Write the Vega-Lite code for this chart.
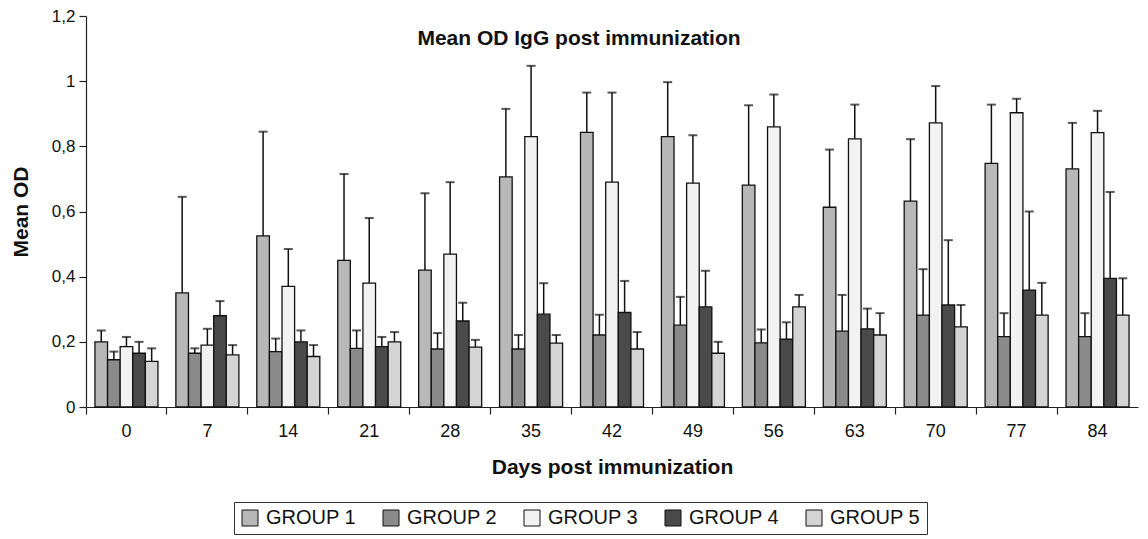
{
  "$schema": "https://vega.github.io/schema/vega-lite/v6.json",
  "width": 1052,
  "height": 391,
  "autosize": {"type": "none"},
  "padding": {"left": 86, "top": 16, "right": 10, "bottom": 132},
  "background": "white",
  "config": {
    "font": "Liberation Sans",
    "view": {"stroke": null},
    "axis": {"domainColor": "#222", "tickColor": "#222", "labelColor": "#111", "titleColor": "#111", "grid": false, "labelFont": "Liberation Sans", "titleFont": "Liberation Sans"}
  },
  "title": {"text": "Mean OD IgG post immunization", "fontSize": 21, "fontWeight": "bold", "font": "Liberation Sans", "anchor": "middle", "dx": -33, "offset": -42, "color": "#111"},
  "data": {"values": [
    {"day": 0, "group": "GROUP 1", "mean": 0.20, "upper": 0.235},
    {"day": 0, "group": "GROUP 2", "mean": 0.145, "upper": 0.17},
    {"day": 0, "group": "GROUP 3", "mean": 0.185, "upper": 0.215},
    {"day": 0, "group": "GROUP 4", "mean": 0.165, "upper": 0.20},
    {"day": 0, "group": "GROUP 5", "mean": 0.14, "upper": 0.18},
    {"day": 7, "group": "GROUP 1", "mean": 0.35, "upper": 0.645},
    {"day": 7, "group": "GROUP 2", "mean": 0.165, "upper": 0.18},
    {"day": 7, "group": "GROUP 3", "mean": 0.19, "upper": 0.24},
    {"day": 7, "group": "GROUP 4", "mean": 0.28, "upper": 0.325},
    {"day": 7, "group": "GROUP 5", "mean": 0.16, "upper": 0.19},
    {"day": 14, "group": "GROUP 1", "mean": 0.525, "upper": 0.845},
    {"day": 14, "group": "GROUP 2", "mean": 0.17, "upper": 0.21},
    {"day": 14, "group": "GROUP 3", "mean": 0.37, "upper": 0.485},
    {"day": 14, "group": "GROUP 4", "mean": 0.20, "upper": 0.235},
    {"day": 14, "group": "GROUP 5", "mean": 0.155, "upper": 0.19},
    {"day": 21, "group": "GROUP 1", "mean": 0.45, "upper": 0.715},
    {"day": 21, "group": "GROUP 2", "mean": 0.18, "upper": 0.235},
    {"day": 21, "group": "GROUP 3", "mean": 0.38, "upper": 0.58},
    {"day": 21, "group": "GROUP 4", "mean": 0.185, "upper": 0.215},
    {"day": 21, "group": "GROUP 5", "mean": 0.20, "upper": 0.23},
    {"day": 28, "group": "GROUP 1", "mean": 0.42, "upper": 0.656},
    {"day": 28, "group": "GROUP 2", "mean": 0.178, "upper": 0.227},
    {"day": 28, "group": "GROUP 3", "mean": 0.469, "upper": 0.69},
    {"day": 28, "group": "GROUP 4", "mean": 0.264, "upper": 0.32},
    {"day": 28, "group": "GROUP 5", "mean": 0.184, "upper": 0.206},
    {"day": 35, "group": "GROUP 1", "mean": 0.706, "upper": 0.915},
    {"day": 35, "group": "GROUP 2", "mean": 0.178, "upper": 0.221},
    {"day": 35, "group": "GROUP 3", "mean": 0.83, "upper": 1.047},
    {"day": 35, "group": "GROUP 4", "mean": 0.285, "upper": 0.38},
    {"day": 35, "group": "GROUP 5", "mean": 0.196, "upper": 0.221},
    {"day": 42, "group": "GROUP 1", "mean": 0.843, "upper": 0.965},
    {"day": 42, "group": "GROUP 2", "mean": 0.221, "upper": 0.283},
    {"day": 42, "group": "GROUP 3", "mean": 0.69, "upper": 0.965},
    {"day": 42, "group": "GROUP 4", "mean": 0.29, "upper": 0.387},
    {"day": 42, "group": "GROUP 5", "mean": 0.178, "upper": 0.23},
    {"day": 49, "group": "GROUP 1", "mean": 0.83, "upper": 0.997},
    {"day": 49, "group": "GROUP 2", "mean": 0.251, "upper": 0.338},
    {"day": 49, "group": "GROUP 3", "mean": 0.687, "upper": 0.834},
    {"day": 49, "group": "GROUP 4", "mean": 0.307, "upper": 0.418},
    {"day": 49, "group": "GROUP 5", "mean": 0.165, "upper": 0.2},
    {"day": 56, "group": "GROUP 1", "mean": 0.681, "upper": 0.926},
    {"day": 56, "group": "GROUP 2", "mean": 0.197, "upper": 0.238},
    {"day": 56, "group": "GROUP 3", "mean": 0.86, "upper": 0.959},
    {"day": 56, "group": "GROUP 4", "mean": 0.208, "upper": 0.26},
    {"day": 56, "group": "GROUP 5", "mean": 0.307, "upper": 0.344},
    {"day": 63, "group": "GROUP 1", "mean": 0.613, "upper": 0.79},
    {"day": 63, "group": "GROUP 2", "mean": 0.233, "upper": 0.344},
    {"day": 63, "group": "GROUP 3", "mean": 0.823, "upper": 0.928},
    {"day": 63, "group": "GROUP 4", "mean": 0.24, "upper": 0.302},
    {"day": 63, "group": "GROUP 5", "mean": 0.221, "upper": 0.288},
    {"day": 70, "group": "GROUP 1", "mean": 0.632, "upper": 0.822},
    {"day": 70, "group": "GROUP 2", "mean": 0.282, "upper": 0.423},
    {"day": 70, "group": "GROUP 3", "mean": 0.872, "upper": 0.985},
    {"day": 70, "group": "GROUP 4", "mean": 0.313, "upper": 0.512},
    {"day": 70, "group": "GROUP 5", "mean": 0.246, "upper": 0.313},
    {"day": 77, "group": "GROUP 1", "mean": 0.748, "upper": 0.928},
    {"day": 77, "group": "GROUP 2", "mean": 0.216, "upper": 0.288},
    {"day": 77, "group": "GROUP 3", "mean": 0.903, "upper": 0.946},
    {"day": 77, "group": "GROUP 4", "mean": 0.359, "upper": 0.6},
    {"day": 77, "group": "GROUP 5", "mean": 0.282, "upper": 0.381},
    {"day": 84, "group": "GROUP 1", "mean": 0.731, "upper": 0.872},
    {"day": 84, "group": "GROUP 2", "mean": 0.216, "upper": 0.288},
    {"day": 84, "group": "GROUP 3", "mean": 0.842, "upper": 0.909},
    {"day": 84, "group": "GROUP 4", "mean": 0.395, "upper": 0.66},
    {"day": 84, "group": "GROUP 5", "mean": 0.282, "upper": 0.395}
  ]},
  "encoding": {
    "x": {"field": "day", "type": "ordinal", "sort": null,
      "scale": {"paddingInner": 0, "paddingOuter": 0},
      "axis": {"title": "Days post immunization", "labelAngle": 0, "labelFontSize": 18, "titleFontSize": 21, "titleFontWeight": "bold", "titlePadding": 16, "bandPosition": 0, "tickSize": 7, "labelPadding": 8, "domainWidth": 1.2, "tickWidth": 1.2}},
    "xOffset": {"field": "group", "type": "nominal", "scale": {"paddingInner": 0, "paddingOuter": 0.71}}
  },
  "layer": [
    {
      "mark": {"type": "rule", "color": "#111", "strokeWidth": 1.5},
      "encoding": {
        "y": {"field": "mean", "type": "quantitative"},
        "y2": {"field": "upper"}
      }
    },
    {
      "mark": {"type": "tick", "color": "#111", "thickness": 2, "size": 9},
      "encoding": {
        "y": {"field": "upper", "type": "quantitative"}
      }
    },
    {
      "mark": {"type": "bar", "stroke": "#111", "strokeWidth": 1.3},
      "encoding": {
        "y": {"field": "mean", "type": "quantitative",
          "scale": {"domain": [0, 1.2], "nice": false},
          "axis": {"title": "Mean OD", "values": [0, 0.2, 0.4, 0.6, 0.8, 1, 1.2], "labelExpr": "replace(toString(datum.value), '.', ',')", "labelFontSize": 17, "titleFontSize": 21, "titleFontWeight": "bold", "titlePadding": 20, "tickSize": 7, "labelPadding": 4, "domainWidth": 1.2, "tickWidth": 1.2}},
        "fill": {"field": "group", "type": "nominal",
          "scale": {"domain": ["GROUP 1", "GROUP 2", "GROUP 3", "GROUP 4", "GROUP 5"], "range": ["#b8b8b8", "#8a8a8a", "#f2f2f2", "#4a4a4a", "#d4d4d4"]},
          "legend": {"title": null, "orient": "none", "legendX": 148, "legendY": 486, "direction": "horizontal", "columns": 5, "symbolType": "square", "symbolSize": 256, "symbolStrokeColor": "#111", "symbolStrokeWidth": 1, "labelFontSize": 20, "labelColor": "#111", "labelFont": "Liberation Sans", "strokeColor": "#333", "padding": 6, "columnPadding": 24, "labelOffset": 6}}
      }
    }
  ]
}
